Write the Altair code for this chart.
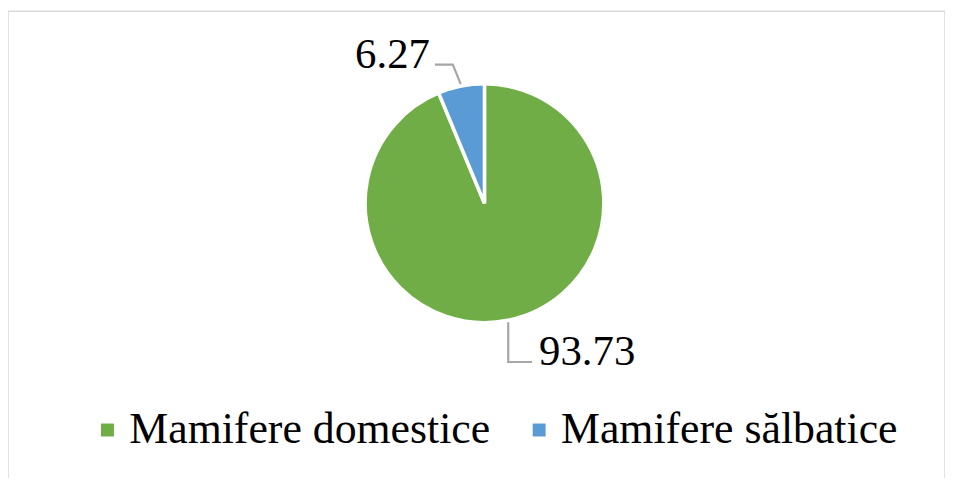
import altair as alt
import pandas as pd
import numpy as np

# ---- data ----
categories = ["Mamifere domestice", "Mamifere sălbatice"]
values = [93.73, 6.27]
labels = ["93.73", "6.27"]
colors = ["#70AD47", "#5B9BD5"]

# ---- layout ----
W, H = 942, 468
CX, CY = 479, 193
R = 120
FONT = "Liberation Serif"

df = pd.DataFrame({"cat": categories, "val": values, "label": labels, "order": [0, 1]})

# leader-line geometry derived from slice mid-angles
total = sum(values)
cum = np.cumsum([0] + values[:-1])
mids = [(c + v / 2) / total * 2 * np.pi for c, v in zip(cum, values)]

rows = []
lab_rows = []
for i, m in enumerate(mids):
    x0 = CX + (R + 2) * np.sin(m)
    y0 = CY - (R + 2) * np.cos(m)
    if i == 0:
        x1, y1 = x0, y0 + 40
        x2, y2 = x1 + 24, y1
        lx, ly, al = x2 + 7, y2 + 3, "left"
    else:
        x1 = CX + (R + 22) * np.sin(m) - 4
        y1 = CY - (R + 22) * np.cos(m)
        x2, y2 = x1 - 18, y1
        lx, ly, al = x2 - 5, y2 + 3, "right"
    for k, (xx, yy) in enumerate([(x0, y0), (x1, y1), (x2, y2)]):
        rows.append({"cat": categories[i], "k": k, "px": xx, "py": yy})
    lab_rows.append({"cat": categories[i], "label": labels[i], "px": lx, "py": ly, "al": al})

lines_df = pd.DataFrame(rows)
lab_df = pd.DataFrame(lab_rows)

# chart frame (bottom edge falls outside the canvas, as in the reference)
frame = alt.Chart(pd.DataFrame({"f": [0]})).mark_rect(
    fill=None, stroke="#D9D9D9", strokeWidth=1.5
).encode(x=alt.value(0), x2=alt.value(W), y=alt.value(0), y2=alt.value(H + 30))

pie = alt.Chart(df).mark_arc(outerRadius=R, stroke="white", strokeWidth=3.5).encode(
    theta=alt.Theta("val:Q", stack=True),
    color=alt.Color(
        "cat:N",
        scale=alt.Scale(domain=categories, range=colors),
        legend=alt.Legend(
            title=None,
            orient="none",
            legendX=78,
            legendY=399,
            direction="horizontal",
            symbolType="square",
            symbolSize=169,
            symbolStrokeWidth=0,
            labelFont=FONT,
            labelFontSize=44,
            labelColor="#000000",
            labelOffset=0,
            labelLimit=0,
            columnPadding=27,
            padding=0,
        ),
    ),
    order=alt.Order("order:Q"),
    x=alt.value(CX),
    y=alt.value(CY),
)

leaders = alt.Chart(lines_df).mark_line(color="#A6A6A6", strokeWidth=2.2).encode(
    x=alt.X("px:Q", scale=None),
    y=alt.Y("py:Q", scale=None),
    detail="cat:N",
    order="k:Q",
)

lab_left = alt.Chart(lab_df).transform_filter("datum.al == 'left'").mark_text(
    align="left", baseline="alphabetic", font=FONT, fontSize=43, color="#000000"
).encode(x=alt.X("px:Q", scale=None), y=alt.Y("py:Q", scale=None), text="label:N")

lab_right = alt.Chart(lab_df).transform_filter("datum.al == 'right'").mark_text(
    align="right", baseline="alphabetic", font=FONT, fontSize=43, color="#000000"
).encode(x=alt.X("px:Q", scale=None), y=alt.Y("py:Q", scale=None), text="label:N")

chart = (
    alt.layer(frame, pie, leaders, lab_left, lab_right)
    .properties(
        width=W,
        height=H,
        padding={"top": 2, "left": 0, "right": 0, "bottom": 0},
        autosize=alt.AutoSizeParams(type="none"),
        background="white",
    )
    .configure_view(stroke=None)
)

chart.save("out.html", embed_options={"renderer": "svg", "actions": False})
